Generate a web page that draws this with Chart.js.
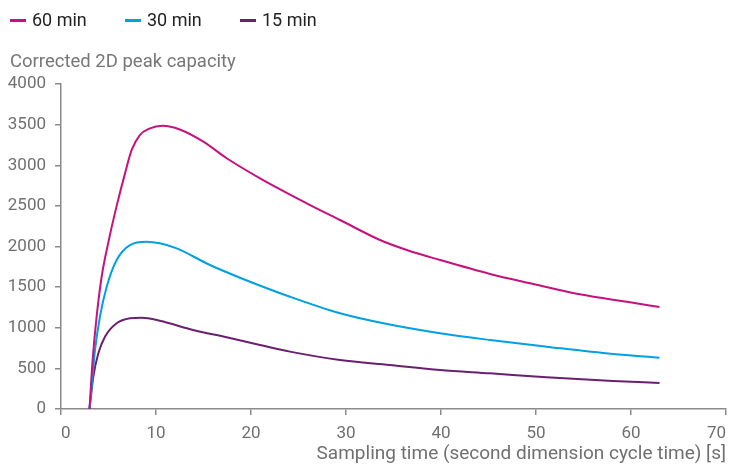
<!DOCTYPE html>
<html>
<head>
<meta charset="utf-8">
<script src="https://cdn.jsdelivr.net/npm/chart.js@4.4.1/dist/chart.umd.min.js"></script>
<style>
  html, body { margin: 0; padding: 0; background: #fff; }
  .wrap { position: relative; width: 730px; height: 464px; overflow: hidden; }
  canvas { position: absolute; left: 0; top: 0; }
  .legend { position: absolute; left: 10px; top: 8px; display: flex; font-family: Roboto, sans-serif; font-size: 18px; line-height: 24px; color: #222; }
  .legend-item { display: flex; align-items: center; width: 115px; }
  .legend-swatch { width: 16px; height: 3px; margin-right: 6px; }
  .y-title { position: absolute; left: 10px; top: 49px; font-family: Roboto, sans-serif; font-size: 18.5px; line-height: 24px; color: #777; }
</style>
</head>
<body>
<div class="wrap">
  <canvas id="chart" width="730" height="464"></canvas>
  <div class="legend" id="legend"></div>
  <div class="y-title" id="ytitle"></div>
</div>
<script>
// series names + colors
const seriesNames = ['60 min', '30 min', '15 min'];
const seriesColors = ['#c5127d', '#00a0e2', '#6b1f6f'];

// sampling time (s) / corrected peak capacity
const x60 = [3, 3.33, 3.75, 4.28, 4.98, 5.86, 6.74, 7.44, 8.3, 9.3, 10.7, 12.5, 14.98, 17.44, 20.95, 25.86, 29.37, 33.58, 36.4, 39.9, 45.16, 49.37, 54.6, 59.9, 63];
const y60 = [0, 603, 1136, 1628, 2050, 2500, 2900, 3188, 3372, 3450, 3485, 3440, 3290, 3086, 2839, 2532, 2326, 2080, 1957, 1834, 1662, 1547, 1411, 1313, 1255];

const x30 = [3, 3.23, 3.58, 4.1, 4.81, 5.86, 7.26, 9.02, 10.4, 12.18, 15.68, 18.84, 24.1, 29.37, 33.93, 39.9, 45.16, 51.1, 58.1, 63];
const y30 = [0, 274, 726, 1136, 1505, 1834, 2018, 2059, 2039, 1977, 1772, 1616, 1382, 1178, 1055, 932, 849, 767, 677, 632];

const x15 = [3, 3.4, 3.93, 4.63, 5.86, 7.26, 8.49, 10.4, 13.9, 17.44, 20.95, 24.1, 29.37, 34.6, 39.9, 45.16, 51.1, 58.1, 63];
const y15 = [0, 397, 686, 890, 1055, 1116, 1124, 1087, 972, 882, 788, 706, 603, 542, 480, 439, 390, 345, 320];

const xTickValues = [0, 10, 20, 30, 40, 50, 60, 70];
const yTickValues = [0, 500, 1000, 1500, 2000, 2500, 3000, 3500, 4000];

const xTitle = 'Sampling time (second dimension cycle time) [s]';
const yTitle = 'Corrected 2D peak capacity';

const axisColor = '#8a8a8a';
const labelColor = '#707070';
const fontFamily = 'Roboto, sans-serif';

const toPoints = (xs, ys) => xs.map((x, i) => ({ x: x, y: ys[i] }));
const allX = [x60, x30, x15];
const allY = [y60, y30, y15];

// html legend
const legendEl = document.getElementById('legend');
seriesNames.forEach((name, i) => {
  const item = document.createElement('div');
  item.className = 'legend-item';
  item.innerHTML = '<span class="legend-swatch" style="background:' + seriesColors[i] + '"></span><span>' + name + '</span>';
  legendEl.appendChild(item);
});
document.getElementById('ytitle').textContent = yTitle;

const ctx = document.getElementById('chart').getContext('2d');
new Chart(ctx, {
  type: 'line',
  data: {
    datasets: seriesNames.map((name, i) => ({
      label: name,
      data: toPoints(allX[i], allY[i]),
      borderColor: seriesColors[i],
      backgroundColor: seriesColors[i],
      borderWidth: 2,
      pointRadius: 0,
      fill: false,
      cubicInterpolationMode: 'monotone'
    }))
  },
  options: {
    responsive: false,
    animation: false,
    layout: { padding: { top: 84, left: 0, right: 4, bottom: 0 } },
    plugins: {
      legend: { display: false },
      tooltip: { enabled: false }
    },
    scales: {
      x: {
        type: 'linear',
        min: 0,
        max: 70,
        afterBuildTicks: s => { s.ticks = xTickValues.map(v => ({ value: v })); },
        afterFit: s => { s.height = 55; s.paddingLeft = 0; s.paddingRight = 0; },
        grid: { display: true, drawOnChartArea: false, drawTicks: true, tickLength: 6, color: axisColor, lineWidth: 1.5 },
        border: { display: true, color: axisColor, width: 1.5 },
        ticks: { align: 'inner', padding: 9, color: labelColor, font: { family: fontFamily, size: 17 }, callback: v => String(v) },
        title: { display: true, text: xTitle, align: 'end', color: labelColor, font: { family: fontFamily, size: 19, lineHeight: 1 }, padding: 0 }
      },
      y: {
        type: 'linear',
        min: 0,
        max: 4000,
        afterBuildTicks: s => { s.ticks = yTickValues.map(v => ({ value: v })); },
        afterFit: s => { s.width = 61; s.paddingTop = 0; s.paddingBottom = 0; },
        grid: { display: true, drawOnChartArea: false, drawTicks: true, tickLength: 6, color: axisColor, lineWidth: 1.5 },
        border: { display: true, color: axisColor, width: 1.5 },
        ticks: { padding: 9, color: labelColor, font: { family: fontFamily, size: 17 }, callback: v => String(v) }
      }
    }
  }
});
</script>
</body>
</html>
